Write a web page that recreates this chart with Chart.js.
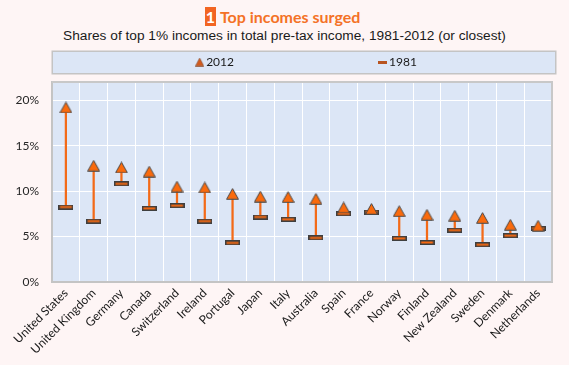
<!DOCTYPE html>
<html>
<head>
<meta charset="utf-8">
<script src="https://cdn.jsdelivr.net/npm/chart.js@4.4.1/dist/chart.umd.min.js"></script>
<style>
html,body{margin:0;padding:0;background:#FEF5F5;}
#wrap{position:relative;width:569px;height:365px;overflow:hidden;}
#title{position:absolute;left:-2px;width:569px;top:7px;text-align:center;font:bold 16px Lato, sans-serif;color:#F47226;white-space:nowrap;line-height:19px;}
#title .num{background:#F26522;color:#fff;padding:0 1px;margin-right:4px;}
#sub{position:absolute;left:0;width:569px;top:28px;text-align:center;font:13.7px "Liberation Sans", Arial, sans-serif;color:#1a1a1a;white-space:nowrap;}
canvas{position:absolute;left:0;top:0;}
</style>
</head>
<body>
<div id="wrap">
  <div id="title"><span class="num">1</span>Top incomes surged</div>
  <div id="sub">Shares of top 1% incomes in total pre-tax income, 1981-2012 (or closest)</div>
  <canvas id="c" width="569" height="365"></canvas>
</div>
<script>
const categories = ["United States","United Kingdom","Germany","Canada","Switzerland","Ireland","Portugal","Japan","Italy","Australia","Spain","France","Norway","Finland","New Zealand","Sweden","Denmark","Netherlands"];
const share2012 = [19.2, 12.8, 12.6, 12.15, 10.5, 10.4, 9.7, 9.4, 9.35, 9.15, 8.2, 8.05, 7.8, 7.4, 7.3, 7.05, 6.3, 6.2];
const share1981 = [8.25, 6.7, 10.8, 8.1, 8.4, 6.7, 4.3, 7.15, 6.9, 4.85, 7.5, 7.7, 4.8, 4.35, 5.7, 4.1, 5.1, 5.9];
const seriesNames = ["2012", "1981"];
const yTicks = [0, 5, 10, 15, 20];

function makeCanvas(w, h, draw) {
  const c = document.createElement('canvas');
  c.width = w; c.height = h;
  draw(c.getContext('2d'));
  return c;
}
const triImg = makeCanvas(13, 12, ctx => {
  ctx.beginPath();
  ctx.moveTo(6.5, 0.7); ctx.lineTo(12.4, 11.3); ctx.lineTo(0.6, 11.3); ctx.closePath();
  ctx.fillStyle = '#FA6A0C'; ctx.fill();
  ctx.strokeStyle = '#4a4a4a'; ctx.lineWidth = 1; ctx.stroke();
});
const barImg = makeCanvas(15, 5, ctx => {
  ctx.fillStyle = '#3f3f3f'; ctx.fillRect(0, 0, 15, 5);
  ctx.fillStyle = '#F86A12'; ctx.fillRect(1.5, 1.5, 12, 2);
});
const triLegend = makeCanvas(9, 9, ctx => {
  ctx.beginPath();
  ctx.moveTo(4.5, 0.5); ctx.lineTo(8.6, 8.5); ctx.lineTo(0.4, 8.5); ctx.closePath();
  ctx.fillStyle = '#D45A1C'; ctx.fill();
  ctx.strokeStyle = '#7a4a30'; ctx.lineWidth = 0.6; ctx.stroke();
});
const barLegend = makeCanvas(9, 3, ctx => {
  ctx.fillStyle = '#B85420'; ctx.fillRect(0, 0, 9, 3);
});

const LEG_PAD = 148;
const bgPlugin = {
  id: 'bgPlugin',
  beforeInit(chart) {
    const lg = chart.legend;
    if (lg) {
      const orig = lg.fit;
      lg.fit = function() { orig.call(this); this.height = 30; };
    }
  },
  afterLayout(chart) {
    const lg = chart.legend;
    if (!lg) return;
    lg.left = 308 - 284; lg.right = 308 + 284; lg.width = 568;
    lg.top = 56 - LEG_PAD; lg.bottom = 80; lg.height = lg.bottom - lg.top;
  },
  beforeDraw(chart) {
    const ctx = chart.ctx;
    const a = chart.chartArea;
    ctx.save();
    ctx.fillStyle = '#DCE6F6';
    ctx.fillRect(52, 51, 504, 23);
    ctx.strokeStyle = '#C4C4C4'; ctx.lineWidth = 1.5;
    ctx.strokeRect(52.25, 51.25, 503.5, 22.5);
    ctx.fillStyle = '#DCE6F6';
    ctx.fillRect(a.left, a.top, a.right - a.left, a.bottom - a.top);
    ctx.restore();
  },
  beforeDatasetsDraw(chart) {
    const ctx = chart.ctx;
    const a = chart.chartArea;
    ctx.save();
    ctx.strokeStyle = '#C8C8C8'; ctx.lineWidth = 2;
    ctx.beginPath();
    ctx.moveTo(a.left, a.top); ctx.lineTo(a.right, a.top); ctx.lineTo(a.right, a.bottom);
    ctx.stroke();
    ctx.restore();
  }
};

Chart.defaults.font.family = 'Lato, sans-serif';
Chart.defaults.color = '#222';

new Chart(document.getElementById('c'), {
  data: {
    labels: categories,
    datasets: [
      {
        type: 'line', label: seriesNames[0], data: share2012,
        showLine: false, pointStyle: triImg, pointRadius: 6, order: 1
      },
      {
        type: 'line', label: seriesNames[1], data: share1981,
        showLine: false, pointStyle: barImg, pointRadius: 6, order: 2
      },
      {
        type: 'bar', label: 'range', data: categories.map((c, i) => [share1981[i], share2012[i]]),
        backgroundColor: '#F36A18', barThickness: 1.6, borderWidth: 0, order: 3
      }
    ]
  },
  options: {
    responsive: false,
    animation: false,
    events: [],
    layout: { padding: { left: 15, right: 17, top: 52, bottom: 0 } },
    plugins: {
      title: { display: false },
      tooltip: { enabled: false },
      legend: {
        display: true, position: 'top',
        labels: {
          usePointStyle: true, pointStyleWidth: 1, padding: LEG_PAD,
          font: { size: 12, family: 'Lato, sans-serif' }, color: '#1a1a1a',
          generateLabels(chart) {
            return [
              { text: seriesNames[0], pointStyle: triLegend, datasetIndex: 0, fillStyle: '#D45A1C', strokeStyle: '#D45A1C', lineWidth: 0, hidden: false, fontColor: '#1a1a1a' },
              { text: seriesNames[1], pointStyle: barLegend, datasetIndex: 1, fillStyle: '#B85420', strokeStyle: '#B85420', lineWidth: 0, hidden: false, fontColor: '#1a1a1a' }
            ];
          }
        }
      }
    },
    scales: {
      x: {
        type: 'category', offset: true,
        grid: { color: '#FFFFFF', lineWidth: 1, offset: true, drawTicks: false },
        border: { display: true, color: '#C4C4C4', width: 2 },
        ticks: { autoSkip: false, minRotation: 45, maxRotation: 45, padding: 4, font: { size: 12 }, color: '#1a1a1a' },
        afterFit(scale) { scale.height = 83; }
      },
      y: {
        min: 0, max: 22,
        grid: { color: '#FFFFFF', lineWidth: 1, drawTicks: false },
        border: { display: true, color: '#C4C4C4', width: 2 },
        afterBuildTicks(scale) { scale.ticks = yTicks.map(v => ({ value: v })); },
        ticks: { padding: 13, font: { size: 12 }, color: '#262626', callback: v => v + '%' },
        afterFit(scale) { scale.width = 37; }
      }
    }
  },
  plugins: [bgPlugin]
});
</script>
</body>
</html>
